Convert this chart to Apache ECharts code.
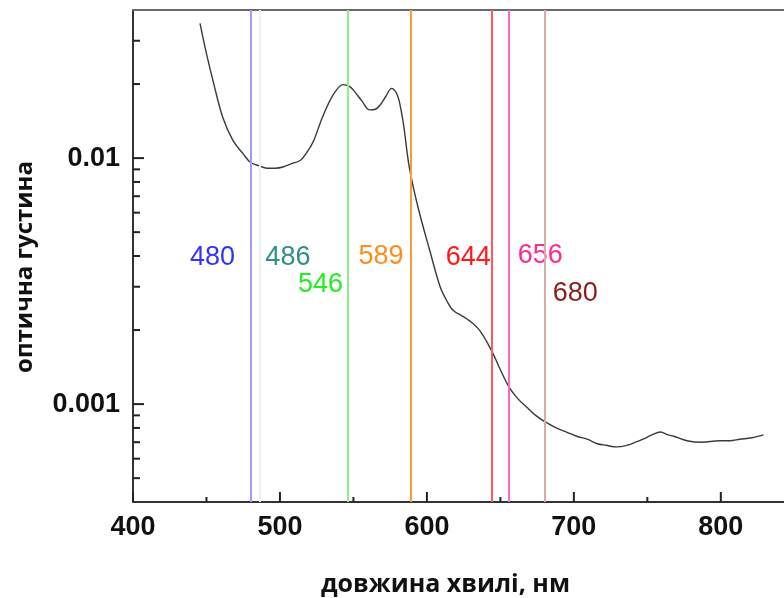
<!DOCTYPE html>
<html>
<head>
<meta charset="utf-8">
<script src="https://cdn.jsdelivr.net/npm/echarts@6/dist/echarts.min.js"></script>
<style>html,body{margin:0;padding:0;background:#fff}#c{width:784px;height:598px}</style>
</head>
<body>
<div id="c"></div>
<script>
// ---- data ----
const wavelength = [445.6,450,455,461,468,475,480,486,491,497,502,508,514,519,523,529,536,543,547,550,556,561,565,568,572,576,579,581,584,588,594,602,609,614,618,624,629,636,644,650,656,662,668,674,680,688,695,702,709,716,722,729,736,742,747,753,759,764,768,777,787,799,806,813,821,829];
const density = [0.0353,0.0266,0.0200,0.0147,0.0118,0.0104,0.0096,0.0093,0.0091,0.0091,0.0092,0.0095,0.0098,0.0107,0.0118,0.0147,0.0180,0.0199,0.0196,0.0189,0.0170,0.0157,0.0158,0.0164,0.0178,0.0192,0.0185,0.0172,0.0138,0.0092,0.0063,0.0042,0.0030,0.0026,0.0024,0.00228,0.00218,0.00199,0.00165,0.00138,0.00117,0.00105,0.00097,0.00090,0.00085,0.00080,0.00077,0.00074,0.00072,0.00069,0.00068,0.00067,0.00068,0.00070,0.00072,0.00075,0.00077,0.00075,0.00074,0.00071,0.00070,0.00071,0.00071,0.00072,0.00073,0.00075];

const lineNames = ['480','486','546','589','644','656','680'];
const lineWavelengths = [480,486,546,589,644,656,680];
// annotation anchor positions (data units)
const labelX = [454.1,505.4,527.6,568.7,628.2,677.2,701.0];
const labelY = [0.00394,0.00394,0.00306,0.00398,0.00394,0.00400,0.00281];

const xTicks = [400,500,600,700,800];
const xMinorTicks = [450,550,650,750];
const yTicks = [0.001,0.01];
const yTickLabels = ['0.001','0.01'];
const yMinorTicks = [0.0005,0.0006,0.0007,0.0008,0.0009,0.002,0.003,0.004,0.005,0.006,0.007,0.008,0.009,0.02,0.03];

// ---- styles / layout ----
const lineColors = ['#9c9cff','#e9f2f2','#8cf08c','#ff9a33','#ff5a5a','#ff66cc','#d8aaaa'];
const textColors = ['#3232ff','#2f8f8a','#22ee22','#ff8c1a','#ff1a1a','#ff2a95','#8b1c1c'];
const G = {left:133, right:0, top:10, bottom:96};

const chart = echarts.init(document.getElementById('c'));
const axisFont = {fontFamily:'Liberation Sans', fontWeight:'bold', fontSize:27, color:'#111'};
const X = [400, 843], Y = [0.0004, 0.04];

// inward tick marks drawn through the axes' own scales
function tickSeries(vals, dim, len){
  return {type:'custom', xAxisIndex:0, yAxisIndex:0, z:5, silent:true, clip:false,
    data:vals.map(v=>[v]),
    renderItem:(params, api)=>{
      const v = api.value(0);
      const p = dim === 'x' ? api.coord([v, Y[0]]) : api.coord([X[0], v]);
      const q = dim === 'x' ? [p[0], p[1]-len] : [p[0]+len, p[1]];
      return {type:'line', shape:{x1:p[0], y1:p[1], x2:q[0], y2:q[1]},
              style:{stroke:'#222', lineWidth:2}};
    }};
}

chart.setOption({
  animation:false,
  grid:Object.assign({containLabel:false, outerBoundsMode:'none'}, G),
  xAxis:[
    {type:'value', min:X[0], max:X[1], position:'bottom',
     name:'довжина хвилі, нм', nameLocation:'middle', nameGap:70,
     nameTextStyle:{fontFamily:'Open Sans', fontWeight:'bold', fontSize:25, color:'#111', padding:[0,26,0,0]},
     axisLine:{show:true, onZero:false, lineStyle:{color:'#333', width:2}},
     axisTick:{show:false},
     axisLabel:Object.assign({customValues:xTicks, margin:12, formatter:v=>String(v)}, axisFont),
     splitLine:{show:false}},
    {type:'value', min:X[0], max:X[1], position:'top',
     axisLine:{show:true, onZero:false, lineStyle:{color:'#6a6a6a', width:2}},
     axisTick:{show:false}, axisLabel:{show:false}, splitLine:{show:false}}
  ],
  yAxis:[
    {type:'log', logBase:10, min:Y[0], max:Y[1], position:'left',
     name:'оптична густина', nameLocation:'middle', nameGap:96, nameRotate:90,
     nameTextStyle:{fontFamily:'Open Sans', fontWeight:'bold', fontSize:24, color:'#111', padding:[0,22,0,0]},
     axisLine:{show:true, onZero:false, lineStyle:{color:'#333', width:2}},
     axisTick:{show:false},
     axisLabel:Object.assign({customValues:yTicks, margin:13,
       formatter:v=>{const i=yTicks.findIndex(t=>Math.abs(t-v)/t<1e-6); return i>=0?yTickLabels[i]:'';}}, axisFont),
     splitLine:{show:false}}
  ],
  series:[
    {type:'line', data:[], xAxisIndex:0, yAxisIndex:0, z:1, silent:true,
     markLine:{silent:true, symbol:['none','none'], label:{show:false},
       data:lineWavelengths.map((w,i)=>({xAxis:w, lineStyle:{color:lineColors[i], width:2, type:'solid'}}))}},
    {type:'line', name:'spectrum', xAxisIndex:0, yAxisIndex:0, z:3,
     data:wavelength.map((w,i)=>[w, density[i]]),
     smooth:0.35, showSymbol:false, symbol:'none',
     lineStyle:{color:'#3a3a3a', width:1.4}},
    {type:'scatter', xAxisIndex:0, yAxisIndex:0, z:4, symbolSize:0, silent:true,
     itemStyle:{opacity:1},
     data:labelX.map((x,i)=>({value:[x, labelY[i]],
       label:{show:true, position:'inside', formatter:lineNames[i], color:textColors[i], opacity:1,
              fontFamily:'Liberation Sans', fontSize:27, textBorderWidth:0}}))},
    tickSeries(xTicks, 'x', 10),
    tickSeries(xMinorTicks, 'x', 5),
    tickSeries(yTicks, 'y', 11),
    tickSeries(yMinorTicks, 'y', 7)
  ]
});
</script>
</body>
</html>
